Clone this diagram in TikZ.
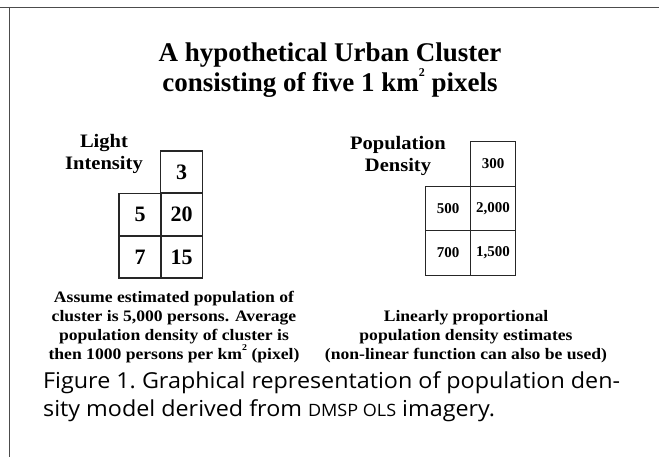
\documentclass[tikz,border=0pt]{standalone}
\usepackage{fontspec}
\setmainfont{Liberation Serif}
\newfontfamily\notefont[FakeStretch=1.1]{Liberation Serif}
\newfontfamily\labelfont[FakeStretch=1.08]{Liberation Serif}
\newfontfamily\captionfont[FakeStretch=1.06]{Open Sans}
\usetikzlibrary{positioning}
\newcommand{\kmsq}[1]{km\raisebox{0.55em}{\fontsize{#1}{#1}\selectfont 2}}
\tikzset{
    pixelcell/.style={
        draw=black!85,
        line width=1.3pt,
        minimum width=42pt,
        minimum height=42pt,
        inner sep=0pt,
        font=\bfseries\fontsize{22}{22}\selectfont
    },
    densitycell/.style={
        pixelcell,
        minimum width=45pt,
        minimum height=44.5pt,
        font=\bfseries\fontsize{15}{15}\selectfont
    },
    gridlabel/.style={
        align=center,
        inner sep=0pt,
        font=\labelfont\bfseries\fontsize{19}{22}\selectfont
    },
    notetext/.style={
        align=center,
        inner sep=0pt,
        font=\notefont\bfseries\fontsize{16}{19}\selectfont
    },
    headline/.style={
        align=center,
        inner sep=0pt,
        font=\bfseries\fontsize{27}{30}\selectfont
    },
    figcaption/.style={
        align=left,
        anchor=north west,
        inner sep=0pt,
        font=\captionfont\fontsize{22}{28}\selectfont
    },
    frameline/.style={
        draw=black!70,
        line width=0.9pt
    }
}

\begin{document}
\begin{tikzpicture}[x=1pt,y=-1pt]
        \useasboundingbox (0,0) rectangle (659,457);

        % frame of the page
        \draw[frameline] (0,7) -- (659,7);
        \draw[frameline] (9,7) -- (9,457);

        \node[headline] (title) at (330,70)
            {A hypothetical Urban Cluster\\consisting of five 1 \kmsq{12} pixels};

        % light intensity pixels
        \node[gridlabel] (lightLabel) at (104,154) {Light\\Intensity};
        \node[pixelcell] (lightTop) at (181.5,172) {3};
        \node[pixelcell] (lightMidR) at (181.5,214.5) {20};
        \node[pixelcell] (lightMidL) at (140,214.5) {5};
        \node[pixelcell] (lightBotR) at (181.5,257) {15};
        \node[pixelcell] (lightBotL) at (140,257) {7};

        % population density pixels
        \node[gridlabel] (densityLabel) at (398,156) {Population\\Density};
        \node[densitycell] (densityTop) at (493,164) {300};
        \node[densitycell] (densityMidR) at (493,208.5) {2,000};
        \node[densitycell] (densityMidL) at (448,208.5) {500};
        \node[densitycell] (densityBotR) at (493,253) {1,500};
        \node[densitycell] (densityBotL) at (448,253) {700};

        \node[notetext] (lightNote) at (174,327)
            {Assume estimated population of\\cluster is 5,000 persons. Average\\population density of cluster is\\then 1000 persons per \kmsq{9} (pixel)};
        \node[notetext] (densityNote) at (466,337)
            {Linearly proportional\\population density estimates\\(non-linear function can also be used)};

        \node[figcaption] (figureCaption) at (43,371)
            {Figure 1.\ Graphical representation of population den-\\sity model derived from {\fontsize{17}{17}\selectfont DMSP OLS} imagery.};
    \end{tikzpicture}
\end{document}
